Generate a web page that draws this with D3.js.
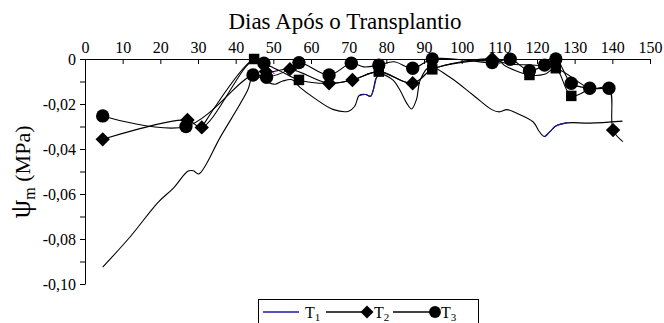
<!DOCTYPE html>
<html><head><meta charset="utf-8">
<script src="https://cdn.jsdelivr.net/npm/d3@7"></script>
<style>
body{margin:0;background:#fff;}
</style></head>
<body><svg id="c" width="664" height="323"></svg>
<script>
// ---- data ----
const xTicks = [0,10,20,30,40,50,60,70,80,90,100,110,120,130,140,150];
const yTicks = [0,-0.01,-0.02,-0.03,-0.04,-0.05,-0.06,-0.07,-0.08,-0.09,-0.10];
const xTitle = "Dias Após o Transplantio";

// T1: continuous line, no markers [day, MPa]
const t1Line = [[4.7,-0.0925],[12,-0.0790],[19.4,-0.0637],[23.4,-0.0575],[27.4,-0.0498],[28.8,-0.0497],[30.2,-0.0511],[36,-0.0345],[43.2,-0.0138],[44.6,-0.0075],[47,-0.0085],[48.8,-0.0105],[50.5,-0.0112],[52.5,-0.0098],[55,-0.0092],[57,-0.0125],[61,-0.0175],[66,-0.0225],[70,-0.0232],[71.6,-0.021],[72.8,-0.0162],[74.5,-0.0158],[75.8,-0.0166],[76.5,-0.014],[77.3,-0.0085],[78.5,-0.0068],[81.7,-0.0093],[83.6,-0.0138],[85.4,-0.0196],[86.7,-0.0222],[88,-0.018],[89,-0.0093],[91.5,-0.0035],[96.8,-0.008],[103,-0.016],[108,-0.0225],[110,-0.0235],[112,-0.0225],[114.5,-0.024],[119,-0.028],[120.5,-0.032],[122,-0.0345],[123.5,-0.0322],[125,-0.0298],[128,-0.0284],[134,-0.0285],[142.7,-0.0276]];
const t1BlueRanges = [[20,24],[41,44]]; // index ranges of t1Line that show in blue

// T2: diamonds
const t2Line = [[4.7,-0.0357],[27.2,-0.0271],[31,-0.0304],[44.9,-0.0005],[48,-0.0056],[54.4,-0.0045],[64.8,-0.0108],[71,-0.0093],[78,-0.0056],[87,-0.0108],[92.2,-0.0046],[100,-0.0012],[108.1,0],[112,-0.002],[125,-0.0041],[134,-0.013],[139.1,-0.013],[140.2,-0.0316],[142.8,-0.0367]];
const t2Marks = [[4.7,-0.0357],[27.2,-0.0271],[31,-0.0304],[48,-0.0056],[54.4,-0.0045],[64.8,-0.0108],[71,-0.0093],[87,-0.0108],[108.1,0],[140.2,-0.0316]];

// T3: circles
const t3Line = [[4.7,-0.0253],[26.8,-0.030],[44.6,-0.0071],[48.2,-0.0081],[54.4,-0.0045],[56.8,-0.0016],[64.8,-0.0071],[70.7,-0.0019],[74,-0.0035],[78,-0.0027],[82,-0.0012],[87,-0.0041],[92.2,0],[100,-0.0003],[108.1,-0.0016],[112.9,-0.0001],[118,-0.0052],[122,-0.0027],[125,0],[129.1,-0.0108],[134,-0.013],[139.1,-0.013]];
const t3Marks = [[4.7,-0.0253],[26.8,-0.030],[44.6,-0.0071],[47.5,-0.0019],[48.2,-0.0081],[56.8,-0.0016],[64.8,-0.0071],[70.7,-0.0019],[78,-0.0027],[87,-0.0041],[92.2,0],[108.1,-0.0016],[112.9,-0.0001],[118,-0.0052],[122,-0.0027],[125,0],[129.1,-0.0108],[134,-0.013],[139.1,-0.013]];

// T4: squares
const t4Line = [[31,-0.0304],[44.9,0],[47.5,-0.0019],[52,-0.0055],[56.8,-0.0093],[64.8,-0.0108],[71,-0.0093],[78,-0.0056],[87,-0.0108],[92.2,-0.0046],[100,-0.0015],[110,-0.001],[111.5,-0.003],[118,-0.0071],[122,-0.0068],[125,-0.0041],[129.1,-0.0164],[134,-0.013]];
const t4Marks = [[44.9,0],[56.8,-0.0093],[78,-0.0056],[92.2,-0.0046],[118,-0.0071],[125,-0.0041],[129.1,-0.0164]];

// T5: short magenta trace
const t5Line = [[48.3,-0.0035],[49.3,-0.0052],[50.3,-0.0066]];

const legendItems = [{n:"1",m:"none"},{n:"2",m:"diamond"},{n:"3",m:"circle"}];

// ---- chart ----
const FONT = "Liberation Serif";
const svg = d3.select("#c");
const x = d3.scaleLinear().domain([0,150]).range([85,650]);
const y = d3.scaleLinear().domain([-0.10,0]).range([284,59]);

// axes
const gx = svg.append("g").attr("transform","translate(0,59)")
  .call(d3.axisTop(x).tickValues(xTicks).tickSizeInner(-5).tickSizeOuter(0).tickPadding(6).tickFormat(d3.format("d")));
gx.attr("font-family",FONT).attr("font-size",16);
const fmtY = v => { const r=Math.round(v*100); if (r===0) return "0"; if (Math.abs(r)%2) return ""; return d3.format(".2f")(v).replace(".",",").replace("\u2212","-"); };
const gy = svg.append("g").attr("transform","translate(85,0)")
  .call(d3.axisLeft(y).tickValues(yTicks).tickSizeInner(5).tickSizeOuter(0).tickPadding(4).tickFormat(fmtY));
gy.attr("font-family",FONT).attr("font-size",16);
svg.selectAll(".domain, .tick line").attr("stroke","#000").attr("stroke-width",1);

// title
svg.append("text").attr("x",345).attr("y",29).attr("text-anchor","middle").attr("font-size",23).text(xTitle);
// y label
const yl = svg.append("text").attr("transform","translate(30,172) rotate(-90)").attr("text-anchor","middle");
yl.append("tspan").attr("font-size",30).text("ψ");
yl.append("tspan").attr("font-size",16).attr("dy",5).text("m");
yl.append("tspan").attr("font-size",22).attr("dy",-5).text(" (MPa)");

const line = d3.line().x(d=>x(d[0])).y(d=>y(d[1])).curve(d3.curveCatmullRom.alpha(0.5));
const addLine = (data,color) => svg.append("path").datum(data).attr("d",line).attr("fill","none").attr("stroke",color).attr("stroke-width",1.1);

addLine(t1Line,"#000");
t1BlueRanges.forEach(r => addLine(t1Line.slice(r[0],r[1]+1),"#1a1aa0"));
addLine(t4Line,"#000");
addLine(t2Line,"#000");
addLine(t3Line,"#000");
addLine(t5Line,"#e000e0");

const diamondPath = s => `M0,${-s}L${s},0L0,${s}L${-s},0Z`;
const markPath = kind => kind==="diamond" ? diamondPath(7.2)
  : kind==="circle" ? d3.symbol(d3.symbolCircle,140)() : d3.symbol(d3.symbolSquare,110)();
const addMarks = (data,kind) => svg.append("g").selectAll("path").data(data).join("path")
  .attr("transform",d=>`translate(${x(d[0])},${y(d[1])})`)
  .attr("d", markPath(kind)).attr("fill","#000");
addMarks(t4Marks,"square");
addMarks(t2Marks,"diamond");
addMarks(t3Marks,"circle");

// legend
const lg = svg.append("g");
lg.append("rect").attr("x",258.5).attr("y",299.5).attr("width",220).attr("height",40).attr("fill","#fff").attr("stroke","#000");
const lx = [263,326,393];
legendItems.forEach((it,i)=>{
  const x0 = lx[i];
  lg.append("line").attr("x1",x0).attr("x2",x0+(i===0?36:42)).attr("y1",312).attr("y2",312)
    .attr("stroke", i===0?"#1a1aa0":"#000").attr("stroke-width",1.3);
  if (it.m==="diamond") lg.append("path").attr("transform",`translate(${x0+41},312)`).attr("d",diamondPath(6.5));
  if (it.m==="circle") lg.append("path").attr("transform",`translate(${x0+42},312)`).attr("d",d3.symbol(d3.symbolCircle,110)());
  const t = lg.append("text").attr("x",x0+(i===0?42:48)).attr("y",318).attr("font-size",16);
  t.append("tspan").text("T");
  t.append("tspan").attr("font-size",11).attr("dy",3).text(it.n);
});
svg.selectAll("text").attr("font-family",FONT).attr("fill","#000");
</script></body></html>
